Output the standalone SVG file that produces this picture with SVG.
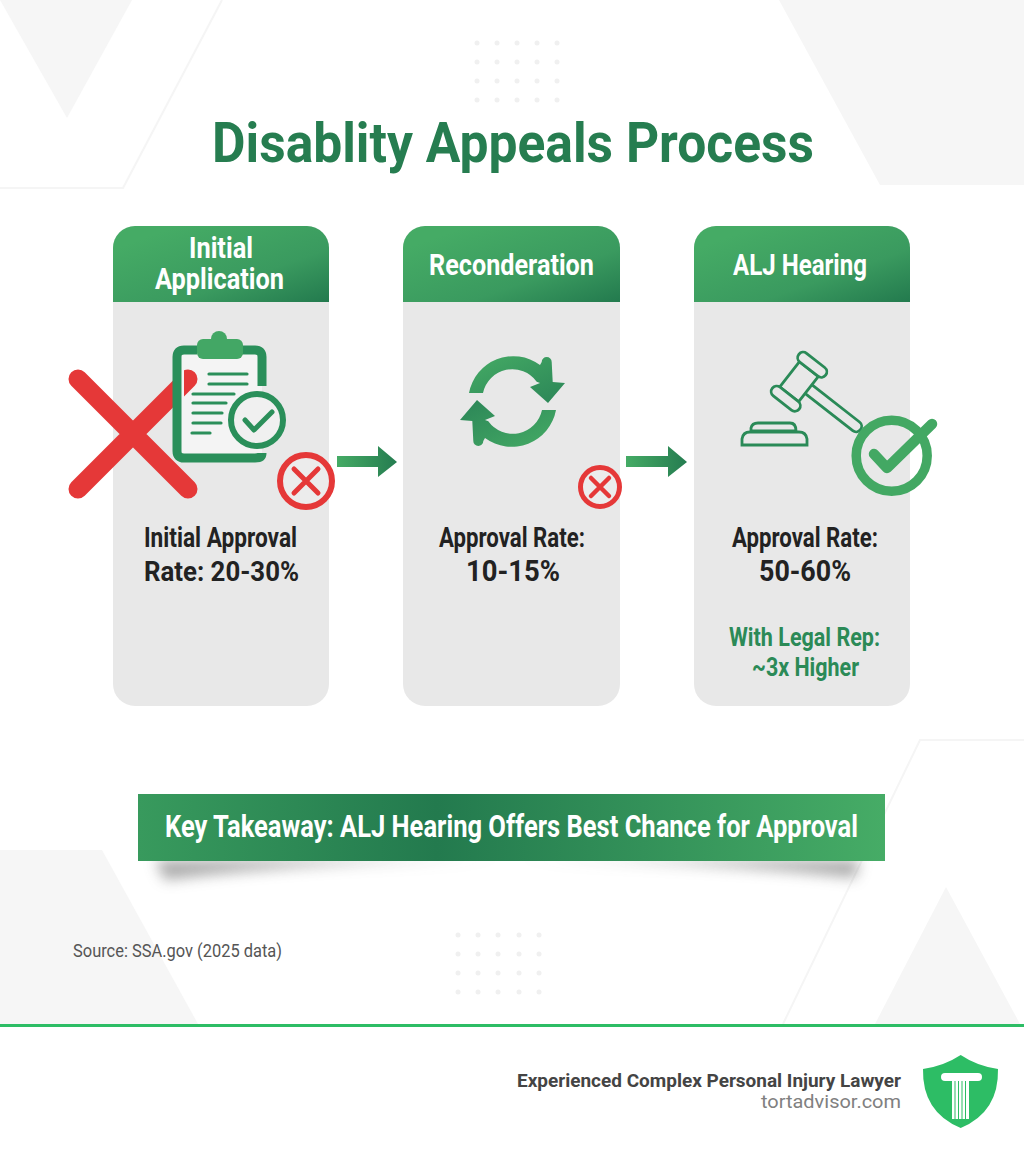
<svg xmlns="http://www.w3.org/2000/svg" width="1024" height="1154" viewBox="0 0 1024 1154">
<defs>
<linearGradient id="hdr" x1="0" y1="0" x2="1" y2="1"><stop offset="0.15" stop-color="#45ab65"/><stop offset="0.65" stop-color="#3a9a5f"/><stop offset="1" stop-color="#237a4e"/></linearGradient>
<linearGradient id="arr" x1="0" y1="0" x2="1" y2="0"><stop offset="0" stop-color="#45ab65"/><stop offset="1" stop-color="#257c50"/></linearGradient>
<linearGradient id="ban" x1="0" y1="0" x2="1" y2="0"><stop offset="0" stop-color="#389a5d"/><stop offset="0.4" stop-color="#237a4e"/><stop offset="1" stop-color="#46ac66"/></linearGradient>
<linearGradient id="cyc" x1="0" y1="0" x2="1" y2="1"><stop offset="0" stop-color="#45ab65"/><stop offset="1" stop-color="#2b8557"/></linearGradient>
<filter id="blur" x="-10%" y="-100%" width="120%" height="300%"><feGaussianBlur stdDeviation="7"/></filter>
<clipPath id="tip"><rect x="184" y="360" width="20" height="50"/></clipPath>
<path id="arc" d="M469,393 A45,45 0 0 1 540,365 L541.7,362 A5,5 0 0 1 551.7,362 L552.7,382 L565,383 L548,403 L530,387 L540,383 L536.7,381.7 A30,30 0 0 0 483,393 Z" fill="url(#cyc)"/>
</defs>
<style>
text{font-family:Roboto,"Liberation Sans",sans-serif;font-weight:700}
.card{fill:#e8e8e8}
.hd{fill:url(#hdr)}
.ht{fill:#fff;font-size:29px;text-anchor:start}
.bt{fill:#222;font-size:27px}
.gt{fill:#2b8a57;font-size:26px}
.bgs{fill:#f6f6f6}
.ol{fill:none;stroke:#f5f5f5;stroke-width:2}
.dot{fill:#f0f0f0}
.g{stroke:#2a8f5a;fill:none}
.ln{stroke:#2b8f5a;stroke-width:3.2;stroke-linecap:round}
.rx{stroke:#e53838;stroke-linecap:round;fill:none}
.gv{fill:#e8e8e8;stroke:#2a8a57;stroke-width:2.8}
</style>
<rect width="1024" height="1154" fill="#fff"/>
<g id="background">
<polygon class="bgs" points="0,0 132,0 67,118"/>
<polyline class="ol" points="222,0 123,188 0,188"/>
<polygon class="bgs" points="779,0 1024,0 1024,185 880,185"/>
<polygon class="bgs" points="0,850 102,850 198,1024 0,1024"/>
<polyline class="ol" points="1024,740 920,740 783,1024"/>
<polygon class="bgs" points="946,887 875,1024 1020,1024"/>
<g class="dot">
<circle cx="477" cy="43" r="2.5"/><circle cx="497" cy="43" r="2.5"/><circle cx="517" cy="43" r="2.5"/><circle cx="537" cy="43" r="2.5"/><circle cx="557" cy="43" r="2.5"/>
<circle cx="477" cy="62" r="2.5"/><circle cx="497" cy="62" r="2.5"/><circle cx="517" cy="62" r="2.5"/><circle cx="537" cy="62" r="2.5"/><circle cx="557" cy="62" r="2.5"/>
<circle cx="477" cy="81" r="2.5"/><circle cx="497" cy="81" r="2.5"/><circle cx="517" cy="81" r="2.5"/><circle cx="537" cy="81" r="2.5"/><circle cx="557" cy="81" r="2.5"/>
<circle cx="477" cy="100" r="2.5"/><circle cx="497" cy="100" r="2.5"/><circle cx="517" cy="100" r="2.5"/><circle cx="537" cy="100" r="2.5"/><circle cx="557" cy="100" r="2.5"/>
<circle cx="458" cy="935" r="2.5"/><circle cx="478" cy="935" r="2.5"/><circle cx="498" cy="935" r="2.5"/><circle cx="519" cy="935" r="2.5"/><circle cx="539" cy="935" r="2.5"/>
<circle cx="458" cy="954" r="2.5"/><circle cx="478" cy="954" r="2.5"/><circle cx="498" cy="954" r="2.5"/><circle cx="519" cy="954" r="2.5"/><circle cx="539" cy="954" r="2.5"/>
<circle cx="458" cy="973" r="2.5"/><circle cx="478" cy="973" r="2.5"/><circle cx="498" cy="973" r="2.5"/><circle cx="519" cy="973" r="2.5"/><circle cx="539" cy="973" r="2.5"/>
<circle cx="458" cy="992" r="2.5"/><circle cx="478" cy="992" r="2.5"/><circle cx="498" cy="992" r="2.5"/><circle cx="519" cy="992" r="2.5"/><circle cx="539" cy="992" r="2.5"/>
</g>
</g>
<text id="title" x="212" y="162" font-size="55" fill="#267d50" textLength="602" lengthAdjust="spacingAndGlyphs">Disablity Appeals Process</text>

<g id="card-initial">
<rect class="card" x="113" y="226" width="216" height="480" rx="22"/>
<path class="hd" d="M113,302 V248 A22,22 0 0 1 135,226 H307 A22,22 0 0 1 329,248 V302 Z"/>
<text class="ht" x="189" y="258" textLength="64" lengthAdjust="spacingAndGlyphs">Initial</text>
<text class="ht" x="155" y="289" textLength="129" lengthAdjust="spacingAndGlyphs">Application</text>
<g class="rx" stroke-width="19"><path d="M78,379 L188,489 M78,489 L188,379"/></g>
<path d="M204,352 H177 V459 H262 V352 H236" fill="#f4f4f4"/>
<path d="M197,350 H184 Q177,350 177,357 V451 Q177,458 184,458 H255 Q262,458 262,453 M262,386 V357 Q262,350 255,350 H242" class="g" stroke-width="9"/>
<path class="rx" stroke-width="19" clip-path="url(#tip)" d="M78,489 L188,379"/>
<circle cx="219" cy="339" r="8" fill="#43a765"/>
<rect x="197" y="339" width="46" height="20" rx="6" fill="#43a765"/>
<path class="ln" d="M209,374 H247 M209,384 H247 M193,394 H234 M193,403 H226 M193,413 H222 M193,423 H221 M192,433 H210"/>
<circle cx="257" cy="420" r="29" fill="#e8e8e8"/>
<circle cx="257" cy="420" r="26" fill="#f0f0f0" stroke="#2a8f5a" stroke-width="6"/>
<path d="M245,420 L254,430 L272,412" fill="none" stroke="#2b8f5a" stroke-width="5" stroke-linecap="round" stroke-linejoin="round"/>
<circle cx="306" cy="481" r="26" fill="#ececec" stroke="#e53838" stroke-width="6"/>
<path class="rx" stroke-width="5" d="M294,469 L318,493 M294,493 L318,469"/>
<text class="bt" x="144" y="547" textLength="153" lengthAdjust="spacingAndGlyphs">Initial Approval</text>
<text class="bt" x="144" y="581" font-size="28" textLength="155" lengthAdjust="spacingAndGlyphs">Rate: 20-30%</text>
</g>

<g id="card-reconderation">
<rect class="card" x="403" y="226" width="217" height="480" rx="22"/>
<path class="hd" d="M403,302 V248 A22,22 0 0 1 425,226 H598 A22,22 0 0 1 620,248 V302 Z"/>
<text class="ht" x="429" y="275" textLength="165" lengthAdjust="spacingAndGlyphs">Reconderation</text>
<use href="#arc"/>
<use href="#arc" transform="rotate(180 512.5 401.5)"/>
<circle cx="600" cy="487" r="19.5" fill="#ececec" stroke="#e53838" stroke-width="5"/>
<path class="rx" stroke-width="4.5" d="M591,478 L609,496 M591,496 L609,478"/>
<text class="bt" x="439" y="547" textLength="146" lengthAdjust="spacingAndGlyphs">Approval Rate:</text>
<text class="bt" x="466" y="581" textLength="94" lengthAdjust="spacingAndGlyphs" style="font-size:29px">10-15%</text>
</g>

<g id="card-hearing">
<rect class="card" x="694" y="226" width="216" height="480" rx="22"/>
<path class="hd" d="M694,302 V248 A22,22 0 0 1 716,226 H888 A22,22 0 0 1 910,248 V302 Z"/>
<text class="ht" x="733" y="275" textLength="134" lengthAdjust="spacingAndGlyphs">ALJ Hearing</text>
<g transform="rotate(38 799 381.7) translate(799 381.7)">
<rect class="gv" x="8" y="-5.5" width="70" height="11" rx="5.5"/>
<rect class="gv" x="-12" y="-16" width="24" height="32"/>
<rect class="gv" x="-17" y="-27" width="34" height="11" rx="5.5"/>
<rect class="gv" x="-17" y="16" width="34" height="11" rx="5.5"/>
</g>
<path class="gv" d="M751,431 V428 Q752,423 758,423 H790 Q796,423 796,431 Z"/>
<path class="gv" d="M742,445 V439 Q743,432 750,432 H799 Q806,432 807,439 V445 Z"/>
<circle cx="891.7" cy="455.7" r="35.5" fill="none" stroke="#43a863" stroke-width="9.5"/>
<path d="M874,454 L887,468 L932,424" fill="none" stroke="#43a863" stroke-width="10.5" stroke-linecap="round" stroke-linejoin="round"/>
<text class="bt" x="732" y="547" textLength="146" lengthAdjust="spacingAndGlyphs">Approval Rate:</text>
<text class="bt" x="759" y="581" textLength="92" lengthAdjust="spacingAndGlyphs" style="font-size:29px">50-60%</text>
<text class="gt" x="729" y="646" textLength="151" lengthAdjust="spacingAndGlyphs">With Legal Rep:</text>
<text class="gt" x="752" y="676" textLength="107" lengthAdjust="spacingAndGlyphs">~3x Higher</text>
</g>

<g id="connectors">
<polygon fill="url(#arr)" points="337,456 378,456 378,446 397,462 378,477 378,467 337,467"/>
<polygon fill="url(#arr)" points="626,456 668,456 668,446 687,462 668,477 668,467 626,467"/>
</g>

<g id="takeaway">
<path d="M155,860 H860 L855,878 Q700,860 510,860 Q320,860 165,880 Z" fill="#666" opacity="0.55" filter="url(#blur)"/>
<rect x="138" y="794" width="747" height="67" fill="url(#ban)"/>
<text x="165" y="837" font-size="31" fill="#fff" textLength="693" lengthAdjust="spacingAndGlyphs">Key Takeaway: ALJ Hearing Offers Best Chance for Approval</text>
</g>

<text id="source" x="73" y="957" font-size="18" fill="#555" style="font-weight:400" textLength="209" lengthAdjust="spacingAndGlyphs">Source: SSA.gov (2025 data)</text>

<g id="footer">
<rect x="0" y="1024" width="1024" height="130" fill="#fff"/>
<rect x="0" y="1024" width="1024" height="3" fill="#2dbd65"/>
<text x="517" y="1086.5" font-size="17.5" fill="#444" textLength="384" lengthAdjust="spacingAndGlyphs">Experienced Complex Personal Injury Lawyer</text>
<text x="761" y="1108" font-size="18.5" fill="#808080" style="font-weight:400" textLength="140" lengthAdjust="spacingAndGlyphs">tortadvisor.com</text>
<path d="M960.7,1055 Q944,1066 923,1069 Q922,1112 960.7,1128 Q999,1112 998,1069 Q977,1066 960.7,1055 Z" fill="#2dbd65"/>
<path d="M945,1073 H978 A4,4 0 0 1 978,1081 H945 A4,4 0 0 1 945,1073 Z" fill="#fff"/>
<rect x="952" y="1080" width="17" height="39" fill="#fff"/>
<path d="M955,1081 V1119 M958.5,1081 V1119 M962,1081 V1119 M965.5,1081 V1119" stroke="#2dbd65" stroke-width="1"/>
</g>
</svg>
